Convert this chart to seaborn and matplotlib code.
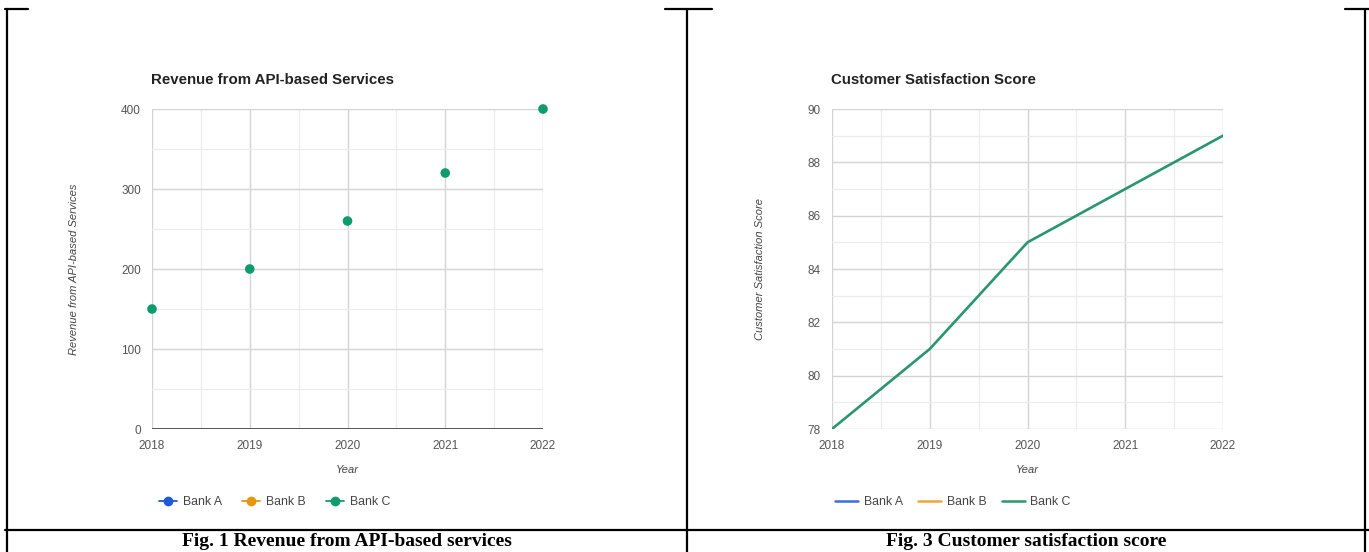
import matplotlib
matplotlib.use("Agg")
import matplotlib.pyplot as plt
import seaborn as sns
import pandas as pd
from matplotlib.lines import Line2D
from matplotlib.ticker import MultipleLocator

# data
years = [2018, 2019, 2020, 2021, 2022]
revenue_bank_c = [150, 200, 260, 320, 400]
satisfaction_bank_c = [78, 81, 85, 87, 89]
banks = ["Bank A", "Bank B", "Bank C"]
bank_colors = ["#1c5ad8", "#e8960c", "#0f9b6e"]

sns.set_theme(style="white")
plt.rcParams["font.family"] = ["Liberation Sans", "DejaVu Sans"]

W, H = 1369, 552
fig = plt.figure(figsize=(W / 100, H / 100), dpi=100)


def px(x0, y0, x1, y1):
    # pixel box -> figure fraction rect
    return [x0 / W, 1 - y1 / H, (x1 - x0) / W, (y1 - y0) / H]


def style_axes(ax, ymin, ymax, ymajor, yminor, baseline_dark):
    ax.set_xlim(2018, 2022)
    ax.set_ylim(ymin, ymax)
    ax.xaxis.set_major_locator(MultipleLocator(1))
    ax.xaxis.set_minor_locator(MultipleLocator(0.5))
    ax.yaxis.set_major_locator(MultipleLocator(ymajor))
    ax.yaxis.set_minor_locator(MultipleLocator(yminor))
    ax.grid(which="major", color="#d4d4d4", lw=1.0)
    ax.grid(which="minor", color="#ececec", lw=0.9)
    ax.set_axisbelow(True)
    for s in ax.spines.values():
        s.set_visible(False)
    if baseline_dark:
        ax.axhline(ymin, color="#555555", lw=1.4, zorder=1)
    ax.tick_params(axis="both", which="both", length=0, labelsize=8.5,
                   labelcolor="#555555", pad=8)
    ax.set_xticks(years)
    ax.set_xticklabels([str(y) for y in years])


# left panel: revenue
ax1 = fig.add_axes(px(152, 109, 543, 429))
df1 = pd.DataFrame({"Year": years, "Revenue": revenue_bank_c})
sns.scatterplot(data=df1, x="Year", y="Revenue", ax=ax1, color=bank_colors[2],
                s=48, edgecolor="none", zorder=3, clip_on=False)
style_axes(ax1, 0, 400, 100, 50, True)
ax1.set_xlabel("Year", fontsize=8, style="italic", color="#444444", labelpad=9)
ax1.set_ylabel("Revenue from API-based Services", fontsize=8, style="italic",
               color="#444444", labelpad=30)
ax1.set_title("Revenue from API-based Services", loc="left", fontsize=10.8,
              fontweight="bold", color="#222222", pad=18, x=-0.002)

# right panel: satisfaction
ax2 = fig.add_axes(px(832, 109, 1223, 429))
df2 = pd.DataFrame({"Year": years, "Score": satisfaction_bank_c})
sns.lineplot(data=df2, x="Year", y="Score", ax=ax2, color="#2a9670", lw=1.9,
             zorder=3)
style_axes(ax2, 78, 90, 2, 1, False)
ax2.set_xlabel("Year", fontsize=8, style="italic", color="#444444", labelpad=9)
ax2.set_ylabel("Customer Satisfaction Score", fontsize=8, style="italic",
               color="#444444", labelpad=31)
ax2.set_title("Customer Satisfaction Score", loc="left", fontsize=10.8,
              fontweight="bold", color="#222222", pad=18, x=-0.002)

# legends
h1 = [Line2D([], [], color=c, lw=1.3, marker="o", ms=6) for c in bank_colors]
fig.legend(h1, banks, loc="center left", bbox_to_anchor=(148 / W, 1 - 502 / H),
           ncol=3, frameon=False, fontsize=8.8, handlelength=1.5,
           handletextpad=0.5, columnspacing=1.6, labelcolor="#444444")
h2 = [Line2D([], [], color=c, lw=1.8) for c in ["#3a6fd8", "#f0a73a", "#2a9670"]]
fig.legend(h2, banks, loc="center left", bbox_to_anchor=(824 / W, 1 - 502 / H),
           ncol=3, frameon=False, fontsize=8.8, handlelength=1.9,
           handletextpad=0.45, columnspacing=1.25, labelcolor="#444444")

# table borders
def hline(x0, x1, y):
    fig.add_artist(Line2D([x0 / W, x1 / W], [1 - y / H, 1 - y / H],
                          color="black", lw=1.6))


def vline(x, y0, y1):
    fig.add_artist(Line2D([x / W, x / W], [1 - y0 / H, 1 - y1 / H],
                          color="black", lw=1.6))


hline(5, 28, 9)
hline(665, 712, 9)
hline(1345, 1369, 9)
vline(7, 9, 552)
vline(687, 9, 552)
vline(1365, 9, 552)
hline(5, 1369, 530)

cap = dict(fontsize=14, fontweight="bold", family="Liberation Serif",
           ha="center", va="center", color="black")
fig.text(347 / W, 1 - 542 / H, "Fig. 1 Revenue from API-based services", **cap)
fig.text(1026 / W, 1 - 542 / H, "Fig. 3 Customer satisfaction score", **cap)

fig.savefig("out.png", dpi=100, facecolor="white")
